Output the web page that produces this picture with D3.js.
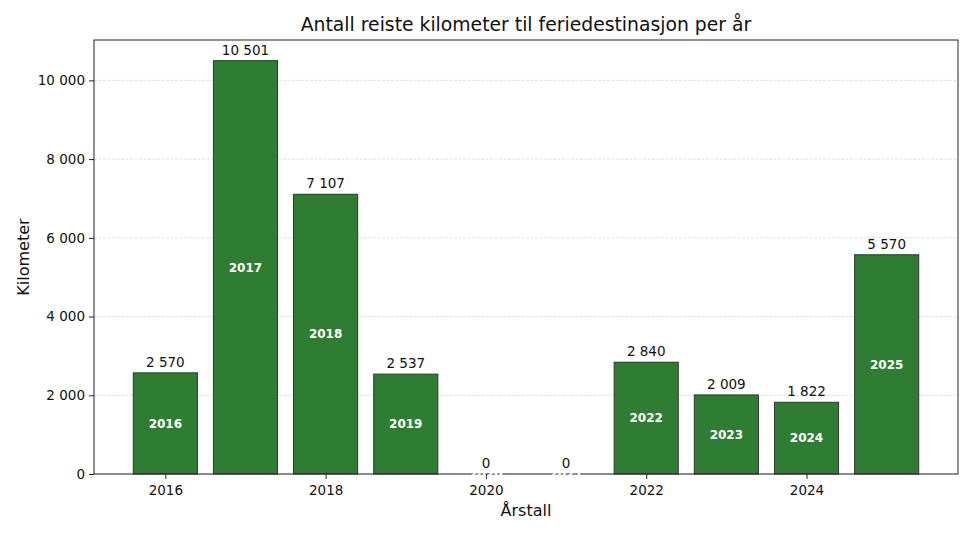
<!DOCTYPE html>
<html><head><meta charset="utf-8">
<script src="https://cdn.jsdelivr.net/npm/d3@7"></script>
<style>body{margin:0;background:#fff}svg{display:block;font-family:"DejaVu Sans",sans-serif}</style>
</head><body>
<svg id="c" width="973" height="535"></svg>
<script>
const years = [2016,2017,2018,2019,2020,2021,2022,2023,2024,2025];
const km = [2570,10501,7107,2537,0,0,2840,2009,1822,5570];
const xTicks = [2016,2018,2020,2022,2024];
const yTicks = [0,2000,4000,6000,8000,10000];
const title = "Antall reiste kilometer til feriedestinasjon per år";
const xLabel = "Årstall";
const yLabel = "Kilometer";

const W=973,H=535;
const m={l:94,r:958,t:40,b:474};
const svg=d3.select("#c");
const fmt=v=>d3.format(",")(v).replace(/,/g," ");
const bw=0.8;
const xmin=d3.min(years)-bw/2, xmax=d3.max(years)+bw/2, pad=(xmax-xmin)*0.05;
const x=d3.scaleLinear().domain([xmin-pad,xmax+pad]).range([m.l,m.r]);
const y=d3.scaleLinear().domain([0,d3.max(km)*1.05]).range([m.b,m.t]);

// grid
svg.append("g").selectAll("line").data(yTicks).join("line")
 .attr("x1",m.l).attr("x2",m.r).attr("y1",d=>y(d)).attr("y2",d=>y(d))
 .attr("stroke","#b0b0b0").attr("stroke-opacity",0.5).attr("stroke-width",0.8).attr("stroke-dasharray","3,1.5");

// bars
svg.append("g").selectAll("rect").data(years).join("rect")
 .attr("x",(d)=>x(d-bw/2)).attr("width",x(bw)-x(0))
 .attr("y",(d,i)=>y(km[i])).attr("height",(d,i)=>y(0)-y(km[i]))
 .attr("fill","#2e7d32").attr("stroke","#333333").attr("stroke-width",1);

// axes
const gx=svg.append("g").attr("transform",`translate(0,${m.b})`)
 .call(d3.axisBottom(x).tickValues(xTicks).tickFormat(d3.format("d")).tickSize(5).tickPadding(6));
const gy=svg.append("g").attr("transform",`translate(${m.l},0)`)
 .call(d3.axisLeft(y).tickValues(yTicks).tickFormat(fmt).tickSize(5).tickPadding(4));
[gx,gy].forEach(g=>{g.select(".domain").remove();g.selectAll("text").attr("font-size",13.5).attr("fill","#111").attr("font-family","DejaVu Sans");g.selectAll("line").attr("stroke","#222");});
svg.append("rect").attr("x",m.l).attr("y",m.t).attr("width",m.r-m.l).attr("height",m.b-m.t)
 .attr("fill","none").attr("stroke","#222").attr("stroke-width",1);

// value labels
svg.append("g").selectAll("text").data(years).join("text")
 .attr("x",d=>x(d)).attr("y",(d,i)=>y(km[i])-6)
 .attr("text-anchor","middle").attr("font-size",13.5).attr("fill","#111")
 .text((d,i)=>fmt(km[i]));

// inside labels
svg.append("g").selectAll("text").data(years).join("text")
 .attr("x",d=>x(d)).attr("y",(d,i)=>y(km[i]/2)).attr("dy","0.35em")
 .attr("text-anchor","middle").attr("font-size",12).attr("font-weight","bold").attr("fill","#fff")
 .text(d=>d);

svg.append("text").attr("x",(m.l+m.r)/2).attr("y",31).attr("text-anchor","middle")
 .attr("font-size",18.8).attr("fill","#111").text(title);
svg.append("text").attr("x",(m.l+m.r)/2).attr("y",516).attr("text-anchor","middle")
 .attr("font-size",16).attr("fill","#111").text(xLabel);
svg.append("text").attr("transform",`translate(29,${(m.t+m.b)/2}) rotate(-90)`).attr("text-anchor","middle")
 .attr("font-size",16).attr("fill","#111").text(yLabel);
</script>
</body></html>
